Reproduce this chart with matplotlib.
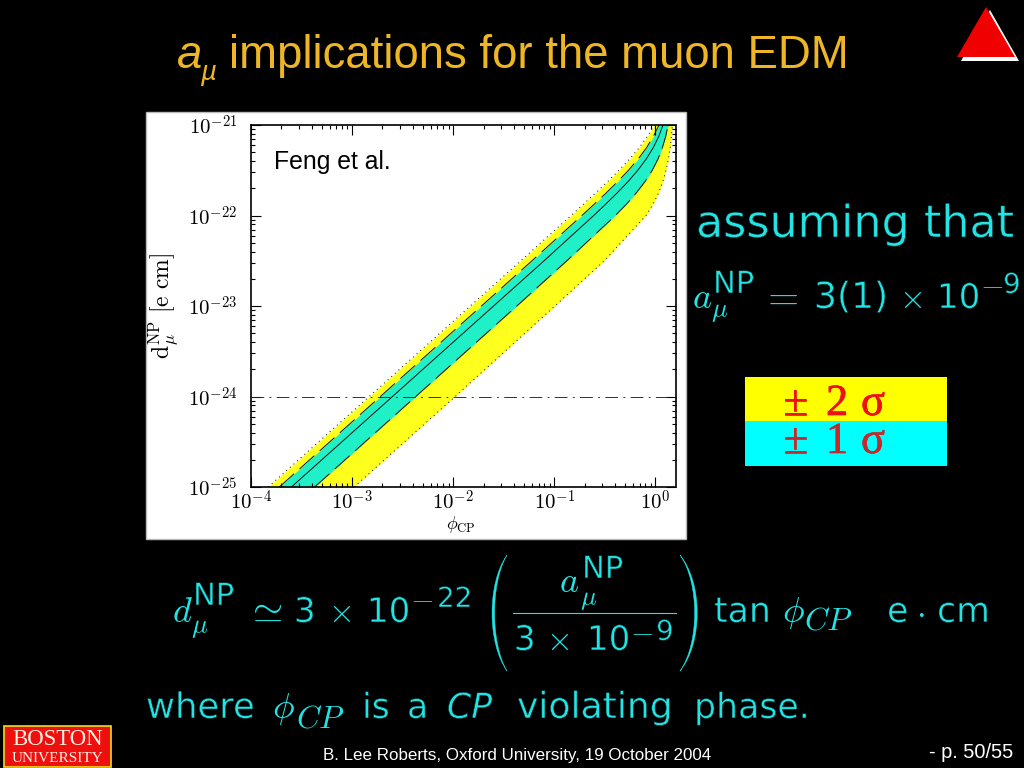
import matplotlib
matplotlib.use('Agg')
import matplotlib.pyplot as plt
from matplotlib.patches import Rectangle, Polygon, PathPatch
from matplotlib.path import Path
from matplotlib.ticker import LogLocator, NullFormatter
import matplotlib.patheffects as pe
import numpy as np

# values, as log10 of d and of phi
log_d = [-25, -24, -23, -22.5, -22, -21.875, -21.75, -21.625, -21.5, -21.375, -21.25, -21.125, -21]
log_phi_up2 = [-3.83, -2.83, -1.83, -1.33, -0.833, -0.711, -0.59, -0.471, -0.359, -0.253, -0.159, -0.077, -0.01]
log_phi_up1 = [-3.72, -2.72, -1.72, -1.22, -0.726, -0.604, -0.485, -0.372, -0.265, -0.169, -0.086, -0.018, 0.036]
log_phi_mid = [-3.60, -2.60, -1.60, -1.10, -0.609, -0.491, -0.377, -0.269, -0.173, -0.089, -0.02, 0.035, 0.076]
log_phi_lo1 = [-3.37, -2.37, -1.37, -0.875, -0.395, -0.286, -0.188, -0.102, -0.03, 0.027, 0.07, 0.103, 0.127]
log_phi_lo2 = [-2.98, -1.98, -0.993, -0.504, -0.092, -0.023, 0.033, 0.075, 0.106, 0.13, 0.147, 0.16, 0.169]

x_ticks = [1e-4, 1e-3, 1e-2, 1e-1, 1e0]
x_labels = ['-4', '-3', '-2', '-1', '0']
y_ticks = [1e-25, 1e-24, 1e-23, 1e-22, 1e-21]
y_labels = ['-25', '-24', '-23', '-22', '-21']
ref_level = 1e-24

gold = '#eeb525'
cyan = '#22e4e4'
W, H = 1024, 768

fig = plt.figure(figsize=(W / 100, H / 100), dpi=100, facecolor='black')
bg = fig.add_axes([0, 0, 1, 1])
bg.set_xlim(0, W)
bg.set_ylim(H, 0)
bg.axis('off')


def put(x, y, s, size=27, color=cyan, ha='left', **kw):
    kw.setdefault('math_fontfamily', 'cm')
    return bg.text(x, y, s, fontsize=size, color=color, ha=ha, va='baseline', **kw)


def sans(x, y, s, size=25, ha='left'):
    # DejaVu is wide enough for the slide text but too heavy, so shave the glyph edges
    t = put(x, y, s, size, cyan, ha=ha, family='DejaVu Sans')
    t.set_path_effects([pe.Normal(), pe.Stroke(linewidth=0.4, foreground='black')])
    return t


# title
put(177, 68, 'a', 32.8, gold, family='Liberation Sans', style='italic')
put(200, 80, 'µ', 20, gold, family='Liberation Sans', style='italic')
put(229, 68, 'implications for the muon EDM', 32.8, gold, family='Liberation Sans')

# triangle
bg.add_patch(Polygon([(990, 10), (961, 61), (1019, 61)], fc='white', ec='none'))
bg.add_patch(Polygon([(986, 7), (957, 57), (1015, 57)], fc='#f00000', ec='none'))

# plot panel
bg.add_patch(Rectangle((146, 112), 540, 427, fc='white', ec='#bbbbbb', lw=1))

ax = fig.add_axes([251 / W, 1 - 487 / H, (675.5 - 251) / W, (487 - 125) / H])
ax.set_xscale('log')
ax.set_yscale('log')
ax.set_xlim(1e-4, 10 ** 0.2)
ax.set_ylim(1e-25, 1e-21)

d = 10.0 ** np.array(log_d)
up2 = 10.0 ** np.array(log_phi_up2)
up1 = 10.0 ** np.array(log_phi_up1)
mid = 10.0 ** np.array(log_phi_mid)
lo1 = 10.0 ** np.array(log_phi_lo1)
lo2 = 10.0 ** np.array(log_phi_lo2)

ax.fill_betweenx(d, up2, lo2, color='#ffff1e', lw=0)
ax.fill_betweenx(d, up1, lo1, color='#1ff0c8', lw=0)
ax.plot(mid, d, color='black', lw=0.65)
ax.plot(up1, d, color='black', lw=0.65, ls=(0, (22, 8)))
ax.plot(lo1, d, color='black', lw=0.65, ls=(0, (22, 8)))
ax.plot(up2, d, color='black', lw=0.7, ls=(0, (1, 4)))
ax.plot(lo2, d, color='black', lw=0.7, ls=(0, (1, 4)))
ax.axhline(ref_level, color='#222222', lw=0.65, ls=(0, (14, 6, 2, 6)))

ax.set_xticks(x_ticks)
ax.set_yticks(y_ticks)
ax.set_xticklabels(['$10^{%s}$' % s for s in x_labels], math_fontfamily='cm', fontsize=15)
ax.set_yticklabels(['$10^{%s}$' % s for s in y_labels], math_fontfamily='cm', fontsize=15)
ax.xaxis.set_minor_locator(LogLocator(10, subs=range(2, 10), numticks=10))
ax.yaxis.set_minor_locator(LogLocator(10, subs=range(2, 10), numticks=10))
ax.xaxis.set_minor_formatter(NullFormatter())
ax.yaxis.set_minor_formatter(NullFormatter())
ax.tick_params(which='major', direction='in', top=True, right=True, length=7, width=0.8, pad=2)
ax.tick_params(which='minor', direction='in', top=True, right=True, length=3, width=0.8)
ax.tick_params(axis='y', which='major', pad=10)
for sp in ax.spines.values():
    sp.set_linewidth(1.2)

put(274, 169, 'Feng et al.', 17.8, 'black', family='Liberation Sans')
bg.set_zorder(0)
ax.set_zorder(1)
ax.patch.set_alpha(0)
fig.text(163 / W, 1 - 306 / H, r'$\mathrm{d}_{\mu}^{\mathrm{NP}}\ \mathrm{[e\ cm]}$', rotation=90,
         fontsize=17, math_fontfamily='cm', color='black', ha='center', va='center', zorder=3)
fig.text(461 / W, 1 - 529 / H, r'$\phi_{\mathrm{CP}}$', fontsize=13, math_fontfamily='cm',
         color='black', ha='center', va='baseline', zorder=3)

# right hand side
sans(696, 237, 'assuming that', 32)
put(692, 308, '$a$', 26)
put(711, 317, r'$\mu$', 19)
sans(713, 293, 'NP', 22)
put(760, 309, '$=$', 29)
sans(814, 308, '3(1)', 26)
put(899, 308, r'$\times$', 24)
sans(937, 308, '10', 24.5)
put(980, 293, '$-$', 22)
sans(1003, 293, '9', 20)

bg.add_patch(Rectangle((745, 377), 202, 44, fc='#ffff00', ec='none'))
bg.add_patch(Rectangle((745, 421), 202, 45, fc='#00ffff', ec='none'))
for row_y, digit, col in [(415, '2', '#ee1111'), (453, '1', '#c82828')]:
    for x0, s in [(783, '±'), (826, digit), (861, 'σ')]:
        t = put(x0, row_y, s, 32, col, family='Liberation Serif')
        t.set_path_effects([pe.withStroke(linewidth=0.5, foreground=col)])

# formula
put(172, 622, '$d$', 26)
put(191, 633, r'$\mu$', 19)
sans(193, 605, 'NP', 22)
put(246, 622, r'$\simeq$', 28)
sans(294, 622, '3', 24.5)
put(328, 622, r'$\times$', 24)
sans(367, 622, '10', 24.5)
put(410, 607, '$-$', 22)
sans(437, 607, '22', 20)

put(559, 592, '$a$', 26)
put(580, 605, r'$\mu$', 19)
sans(582, 578, 'NP', 22)
bg.plot([513, 676], [612.5, 612.5], color=cyan, lw=0.8)
sans(514, 650, '3', 24.5)
put(546, 650, r'$\times$', 24)
sans(587, 650, '10', 24.5)
put(630, 640, '$-$', 22)
sans(656, 640, '9', 20)


def paren(x_tip, x_ctl, thick):
    # crescent shape for a tall bracket
    top, bot, mid_y = 555, 671, 613
    verts = [(x_tip, top), (x_ctl, mid_y - 30), (x_ctl, mid_y + 30), (x_tip, bot),
             (x_ctl + thick, mid_y + 30), (x_ctl + thick, mid_y - 30), (x_tip, top)]
    codes = [Path.MOVETO, Path.CURVE4, Path.CURVE4, Path.CURVE4, Path.CURVE4, Path.CURVE4, Path.CURVE4]
    bg.add_patch(PathPatch(Path(verts, codes), fc=cyan, ec=cyan, lw=0.3))


paren(507, 487, 3.5)
paren(680, 703, -3.5)

sans(714, 622, 'tan', 25)
put(782, 622, r'$\phi$', 26)
put(804, 630, '$CP$', 23)
sans(887, 622, 'e', 25)
put(916, 622, r'$\cdot$', 25)
sans(937, 622, 'cm', 25)

# last line
sans(146, 718, 'where', 25.5)
put(272, 718, r'$\phi$', 26)
put(296, 728, '$CP$', 23)
sans(362, 718, 'is', 25)
sans(407, 718, 'a', 25)
t = put(447, 718, 'CP', 25, family='DejaVu Sans', style='oblique')
t.set_path_effects([pe.Normal(), pe.Stroke(linewidth=0.4, foreground='black')])
sans(517, 718, 'violating', 26)
sans(694, 718, 'phase.', 25)

# logo
bg.add_patch(Rectangle((4, 725.5), 107, 41.5, fc='#ee0f0f', ec='#e8e020', lw=1.2))
put(57.5, 745, 'BOSTON', 16.4, '#fff0e0', ha='center', family='Liberation Serif')
put(57.5, 762, 'UNIVERSITY', 11, '#fff0e0', ha='center', family='Liberation Serif')

# footer
put(323, 760, 'B. Lee Roberts, Oxford University, 19 October 2004', 12.25, 'white', family='Liberation Sans')
put(929, 758, '- p. 50/55', 14.4, 'white', family='Liberation Sans')

fig.savefig('out.png', dpi=100, facecolor='black')
